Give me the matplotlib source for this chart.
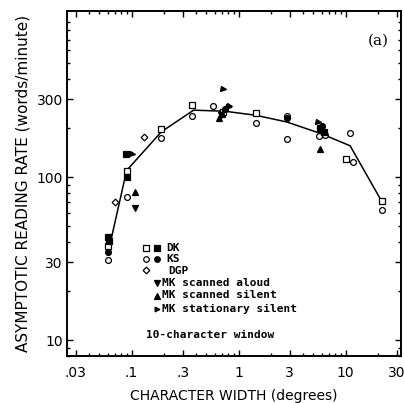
"""
Asymptotic reading rate vs. character width, panel (a).
"""

import numpy as np
from matplotlib import pyplot as plt, ticker

# data
curve_x = [0.062, 0.09, 0.19, 0.38, 0.75, 1.45, 2.84, 5.9, 11.0, 22.0]
curve_y = [37, 110, 190, 258, 254, 240, 218, 185, 156, 70]

dk_open_x = [0.06, 0.09, 0.19, 0.37, 0.72, 1.45, 5.8, 6.2, 10.0, 22.0]
dk_open_y = [38, 109, 199, 279, 250, 249, 200, 188, 129, 71]
dk_filled_x = [0.06, 0.061, 0.088, 0.09, 5.9, 6.3]
dk_filled_y = [43, 40.5, 138, 100, 197, 190]

ks_open_x = [0.06, 0.09, 0.19, 0.37, 0.58, 1.45, 2.84, 2.84, 5.6, 6.4, 11.0, 11.6, 22.0]
ks_open_y = [31, 76, 175, 238, 274, 216, 236, 172, 180, 182, 186, 124, 63]
ks_filled_x = [0.06, 0.75, 2.84, 6.0]
ks_filled_y = [34.5, 262, 232, 205]

dgp_x = [0.0695, 0.13]
dgp_y = [70, 177]

aloud_x = [0.107, 0.68]
aloud_y = [65, 240]
silent_x = [0.107, 0.66, 0.7, 5.7]
silent_y = [81, 232, 245, 150]
stationary_x = [0.1, 0.72, 0.8, 0.82, 5.5]
stationary_y = [138, 350, 268, 272, 218]

x_ticks = [0.03, 0.1, 0.3, 1, 3, 10, 30]
x_tick_labels = [".03", ".1", ".3", "1", "3", "10", "30"]
y_ticks = [10, 30, 100, 300]
y_tick_labels = ["10", "30", "100", "300"]

legend_rows = ["DK", "KS", "DGP", "MK scanned aloud", "MK scanned silent",
               "MK stationary silent"]

plt.rcParams["font.family"] = ["DejaVu Sans"]

fig = plt.figure(figsize=(4.04, 4.03), dpi=100)
ax = fig.add_axes([0.166, 0.117, 0.827, 0.856])
ax.set_xscale("log")
ax.set_yscale("log")
ax.set_xlim(0.025, 33)
ax.set_ylim(8, 1050)

ax.plot(curve_x, curve_y, color="black", lw=1.1, zorder=2)

ms = 4.2
open_style = dict(ls="none", mfc="white", mec="black", mew=0.9, ms=ms, zorder=3)
filled_style = dict(ls="none", mfc="black", mec="black", mew=0.9, ms=ms, zorder=4)
ax.plot(dk_open_x, dk_open_y, marker="s", **open_style)
ax.plot(ks_open_x, ks_open_y, marker="o", **open_style)
ax.plot(dgp_x, dgp_y, marker="D", **{**open_style, "ms": 3.4})
ax.plot(dk_filled_x, dk_filled_y, marker="s", **filled_style)
ax.plot(ks_filled_x, ks_filled_y, marker="o", **filled_style)
ax.plot(aloud_x, aloud_y, marker="v", **filled_style)
ax.plot(silent_x, silent_y, marker="^", **filled_style)
ax.plot(stationary_x, stationary_y, marker=">", **{**filled_style, "ms": 3.6})

# ticks
ax.xaxis.set_major_locator(ticker.FixedLocator(x_ticks))
ax.xaxis.set_major_formatter(ticker.FixedFormatter(x_tick_labels))
ax.xaxis.set_minor_locator(ticker.LogLocator(base=10, subs=np.arange(2, 10), numticks=20))
ax.xaxis.set_minor_formatter(ticker.NullFormatter())
ax.yaxis.set_major_locator(ticker.FixedLocator(y_ticks))
ax.yaxis.set_major_formatter(ticker.FixedFormatter(y_tick_labels))
ax.yaxis.set_minor_locator(ticker.LogLocator(base=10, subs=np.arange(2, 10), numticks=20))
ax.yaxis.set_minor_formatter(ticker.NullFormatter())
ax.tick_params(which="both", direction="in", top=True, right=True, width=1.0,
               labelsize=10)
ax.tick_params(which="major", length=4.5)
ax.tick_params(which="minor", length=2.5)
ax.tick_params(axis="x", which="major", pad=7)
ax.tick_params(axis="y", which="major", pad=3)
for spine in ax.spines.values():
    spine.set_linewidth(1.4)

ax.set_xlabel("CHARACTER WIDTH (degrees)", fontsize=10, labelpad=7)
ax.set_ylabel("ASYMPTOTIC READING RATE (words/minute)", fontsize=11, labelpad=4)

ax.text(0.93, 0.913, "(a)", transform=ax.transAxes, ha="center", va="center",
        fontsize=11, family="DejaVu Serif")

# hand-drawn style legend inside the axes
rows_y = [248, 259, 270.5, 283, 295.5, 309]
to_ax = ax.transAxes.inverted()
def px(xp, yp):
    """Figure pixel (top-left origin) to axes fraction."""
    return to_ax.transform(fig.transFigure.transform((xp / 404, 1 - yp / 403)))

symbol_sets = [
    [("s", "white", 145.7), ("s", "black", 156.5)],
    [("o", "white", 145.7), ("o", "black", 156.5)],
    [("D", "white", 145.7)],
    [("v", "black", 157)],
    [("^", "black", 157)],
    [(">", "black", 157)],
]
text_x = [166, 166, 168, 161.5, 161.5, 161.5]
legend_font = dict(fontsize=8.0, family="DejaVu Sans Mono", fontweight="bold")
for label, row_y, symbols, tx in zip(legend_rows, rows_y, symbol_sets, text_x):
    for marker, face, sx in symbols:
        ax.plot(*px(sx, row_y), marker=marker, mfc=face, mec="black", mew=0.9,
                ms=3.4 if marker in "D>" else 4.0, transform=ax.transAxes,
                ls="none", clip_on=False)
    ax.text(*px(tx, row_y), label, transform=ax.transAxes, ha="left", va="center",
            **legend_font)
ax.text(*px(146, 335), "10-character window", transform=ax.transAxes, ha="left",
        va="center", **legend_font)

fig.savefig("out.png", dpi=100)
